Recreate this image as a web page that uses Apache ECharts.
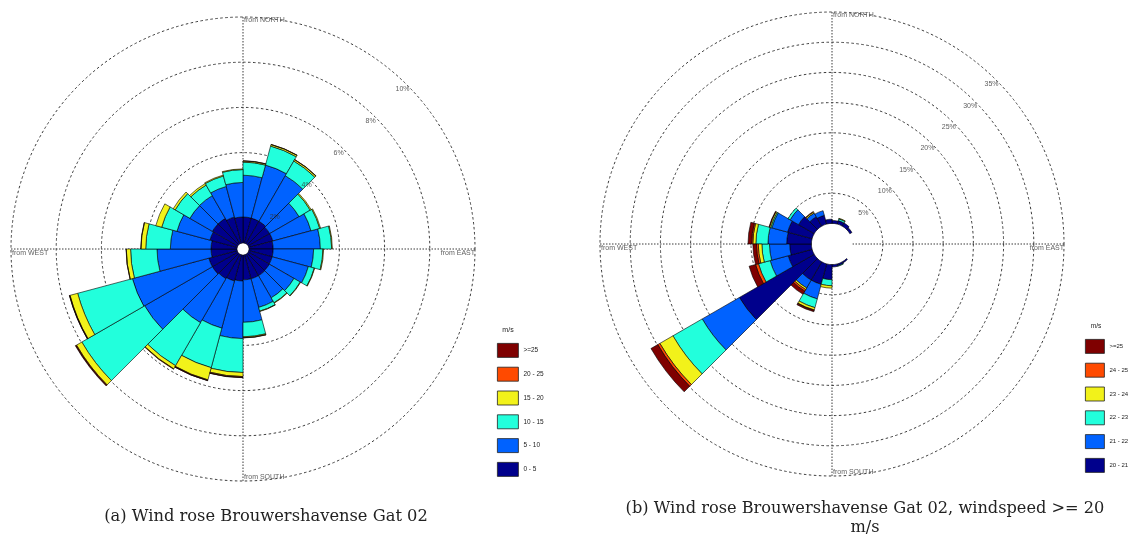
<!DOCTYPE html>
<html>
<head>
<meta charset="utf-8">
<script src="https://cdn.jsdelivr.net/npm/echarts@6/dist/echarts.min.js"></script>
<style>
  html, body { margin: 0; padding: 0; background: #fff; }
  #chart { width: 1132px; height: 541px; }
</style>
</head>
<body>
<div id="chart"></div>
<script>
// 24 direction sectors of 15 degrees, clockwise from north (sector start bearing)
const directions = ['0', '15', '30', '45', '60', '75', '90', '105', '120', '135', '150', '165',
                    '180', '195', '210', '225', '240', '255', '270', '285', '300', '315', '330', '345'];

// speed classes (m/s)
const speedBinsA = ['0 - 5', '5 - 10', '10 - 15', '15 - 20', '20 - 25', '>=25'];
const speedBinsB = ['20 - 21', '21 - 22', '22 - 23', '23 - 24', '24 - 25', '>=25'];
const binColors = ['#00008C', '#0062FF', '#22FFDC', '#F2F21A', '#FF4A00', '#7F0000'];

// radial tick labels (%)
const ringTicksA = [2, 4, 6, 8, 10];
const ringTicksB = [5, 10, 15, 20, 25, 30, 35];

// (a) frequency of occurrence (%) per sector and speed class, all wind speeds
const a0to5   = [1.15, 1.15, 1.15, 1.10, 1.10, 1.07, 1.07, 1.07, 1.08, 1.10, 1.10, 1.10,
                 1.15, 1.20, 1.25, 1.30, 1.30, 1.15, 1.15, 1.25, 1.30, 1.30, 1.20, 1.15];
const a5to10  = [1.85, 2.43, 2.33, 1.50, 1.75, 2.09, 1.79, 1.66, 1.26, 1.13, 1.31, 1.88,
                 2.55, 2.16, 2.25, 3.46, 3.50, 2.39, 1.80, 1.51, 1.15, 1.16, 1.40, 1.53];
const a10to15 = [0.58, 0.87, 0.75, 0.57, 0.40, 0.50, 0.41, 0.27, 0.32, 0.25, 0.17, 0.64,
                 1.50, 1.81, 2.20, 3.21, 2.51, 1.17, 1.09, 0.70, 0.75, 0.54, 0.48, 0.57];
const a15to20 = [0.05, 0.07, 0.07, 0.05, 0.04, 0.03, 0.03, 0.02, 0.02, 0.02, 0.02, 0.04,
                 0.18, 0.56, 0.16, 0.27, 0.35, 0.19, 0.21, 0.27, 0.10, 0.08, 0.04, 0.03];
const a20to25 = [0.01, 0.01, 0.01, 0, 0, 0, 0, 0, 0, 0, 0, 0.01,
                 0.04, 0.03, 0.02, 0.03, 0.02, 0.01, 0.01, 0, 0, 0, 0, 0];
const a25up   = [0, 0, 0, 0, 0, 0, 0, 0, 0, 0, 0, 0,
                 0.01, 0.01, 0, 0.03, 0.01, 0, 0, 0, 0, 0, 0, 0];

// (b) frequency of occurrence (%) per sector and speed class, wind speed >= 20 m/s
const b20to21 = [0.5, 0.6, 0.6, 0.4, 0, 0, 0, 0, 0, 0.2, 0.3, 0.4,
                 2.5, 3.5, 3.5, 14.3, 4.1, 3.6, 4.1, 4.2, 3.0, 1.8, 1.5, 0.7];
const b21to22 = [0, 0, 0, 0, 0, 0, 0, 0, 0, 0, 0, 0,
                 0, 2.5, 1.5, 7.1, 3.1, 3.35, 3.1, 2.7, 1.6, 0.7, 0.8, 0];
const b22to23 = [0, 0.3, 0, 0, 0, 0, 0, 0, 0, 0, 0.1, 0,
                 1.0, 1.5, 0, 5.6, 2.0, 1.25, 2.0, 0.2, 0.4, 0, 0, 0];
const b23to24 = [0, 0.1, 0, 0, 0, 0, 0, 0, 0, 0, 0, 0,
                 0.4, 0.4, 0.3, 2.5, 0, 0.6, 0.5, 0.2, 0, 0.2, 0, 0];
const b24to25 = [0, 0, 0, 0, 0, 0, 0, 0, 0, 0, 0, 0,
                 0, 0.1, 0.3, 0.4, 0.5, 0.3, 0.2, 0, 0, 0.1, 0, 0];
const b25up   = [0, 0, 0, 0, 0, 0, 0, 0, 0, 0, 0, 0,
                 0, 0.2, 0.6, 1.3, 1.1, 0.6, 0.6, 0.1, 0, 0, 0, 0];

const seriesA = [a0to5, a5to10, a10to15, a15to20, a20to25, a25up];
const seriesB = [b20to21, b21to22, b22to23, b23to24, b24to25, b25up];

const smallFont = 'Liberation Sans, Arial, sans-serif';
const gridColor = '#3a3a3a';

function barSeries(name, values, color, polarIndex) {
  return {
    type: 'bar',
    name: name,
    coordinateSystem: 'polar',
    polarIndex: polarIndex,
    stack: 'rose' + polarIndex,
    barCategoryGap: '0%',
    data: values.map(v => (v > 0 ? v : '-')),
    itemStyle: { color: color, borderColor: '#000', borderWidth: 0.6 },
    emphasis: { disabled: true },
    silent: true,
    z: 3
  };
}

function ringLabelSeries(polarIndex, ticks) {
  return {
    type: 'scatter',
    coordinateSystem: 'polar',
    polarIndex: polarIndex,
    symbolSize: 1,
    itemStyle: { color: 'rgba(0,0,0,0)' },
    data: ticks.map(v => [v, 45]),
    label: {
      show: true,
      position: 'inside',
      formatter: p => p.value[0] + '%',
      offset: [-4.5, 4.5],
      fontSize: 7,
      fontFamily: smallFont,
      color: '#333'
    },
    silent: true,
    z: 5
  };
}

function compassSeries(polarIndex, rMax) {
  const base = { show: true, position: 'inside', fontSize: 7, fontFamily: smallFont, color: '#333' };
  return {
    type: 'scatter',
    coordinateSystem: 'polar',
    polarIndex: polarIndex,
    symbolSize: 1,
    itemStyle: { color: 'rgba(0,0,0,0)' },
    data: [
      { value: [rMax, 0],   label: Object.assign({}, base, { formatter: 'from NORTH', align: 'left',  verticalAlign: 'top',    offset: [1, 0] }) },
      { value: [rMax, 90],  label: Object.assign({}, base, { formatter: 'from EAST',  align: 'right', verticalAlign: 'top',    offset: [0, 1] }) },
      { value: [rMax, 180], label: Object.assign({}, base, { formatter: 'from SOUTH', align: 'left',  verticalAlign: 'bottom', offset: [1, 0] }) },
      { value: [rMax, 270], label: Object.assign({}, base, { formatter: 'from WEST',  align: 'left',  verticalAlign: 'top',    offset: [1, 1] }) }
    ],
    silent: true,
    z: 5
  };
}

function ringColors(count) {
  const c = ['rgba(0,0,0,0)'];
  for (let i = 1; i < count; i++) c.push(gridColor);
  return c;
}

const hidden = { axisLine: { show: false }, axisTick: { show: false }, axisLabel: { show: false } };

const option = {
  backgroundColor: '#fff',
  animation: false,
  polar: [
    { center: [243, 249], radius: [6, 232] },
    { center: [243, 249], radius: [6, 232] },
    { center: [832, 244], radius: [20.6, 232] },
    { center: [832, 244], radius: [20.6, 232] }
  ],
  angleAxis: [
    Object.assign({ polarIndex: 0, type: 'category', data: directions, startAngle: 90, clockwise: true,
                    boundaryGap: true, splitLine: { show: false } }, hidden),
    Object.assign({ polarIndex: 1, type: 'value', min: 0, max: 360, interval: 90, startAngle: 90, clockwise: true,
                    splitLine: { show: true, lineStyle: { color: gridColor, width: 1, type: [1.5, 1.5] } } }, hidden),
    Object.assign({ polarIndex: 2, type: 'category', data: directions, startAngle: 90, clockwise: true,
                    boundaryGap: true, splitLine: { show: false } }, hidden),
    Object.assign({ polarIndex: 3, type: 'value', min: 0, max: 360, interval: 90, startAngle: 90, clockwise: true,
                    splitLine: { show: true, lineStyle: { color: gridColor, width: 1, type: [1.5, 1.5] } } }, hidden)
  ],
  radiusAxis: [
    Object.assign({ polarIndex: 0, type: 'value', min: 0, max: 10, splitLine: { show: false } }, hidden),
    Object.assign({ polarIndex: 1, type: 'value', min: 0, max: 10, interval: 2,
                    splitLine: { show: true, lineStyle: { color: ringColors(6), width: 1, type: [2.5, 2.5] } } }, hidden),
    Object.assign({ polarIndex: 2, type: 'value', min: 0, max: 35, splitLine: { show: false } }, hidden),
    Object.assign({ polarIndex: 3, type: 'value', min: 0, max: 35, interval: 5,
                    splitLine: { show: true, lineStyle: { color: ringColors(8), width: 1, type: [2.5, 2.5] } } }, hidden)
  ],
  legend: [
    {
      data: speedBinsA.slice().reverse(),
      orient: 'vertical', left: 492, top: 338,
      itemWidth: 21, itemHeight: 14, itemGap: 9,
      icon: 'rect', selectedMode: false,
      itemStyle: { borderColor: '#222', borderWidth: 0.8 },
      textStyle: { fontSize: 6.5, fontFamily: smallFont, color: '#222' }
    },
    {
      data: speedBinsB.slice().reverse(),
      orient: 'vertical', left: 1080, top: 334,
      itemWidth: 19, itemHeight: 14, itemGap: 9,
      icon: 'rect', selectedMode: false,
      itemStyle: { borderColor: '#222', borderWidth: 0.8 },
      textStyle: { fontSize: 6, fontFamily: smallFont, color: '#222' }
    }
  ],
  graphic: [
    { type: 'text', x: 508, y: 330, style: { text: 'm/s', fontSize: 7, fontFamily: smallFont, fill: '#222', align: 'center', verticalAlign: 'middle' } },
    { type: 'text', x: 1096, y: 326, style: { text: 'm/s', fontSize: 6.5, fontFamily: smallFont, fill: '#222', align: 'center', verticalAlign: 'middle' } },
    { type: 'text', x: 266, y: 517, style: { text: '(a) Wind rose Brouwershavense Gat 02', fontSize: 16.3, fontFamily: 'DejaVu Serif, serif', fill: '#222', align: 'center', verticalAlign: 'middle' } },
    { type: 'text', x: 865, y: 518, style: { text: '(b) Wind rose Brouwershavense Gat 02, windspeed >= 20\nm/s', lineHeight: 19, fontSize: 16.2, fontFamily: 'DejaVu Serif, serif', fill: '#222', align: 'center', verticalAlign: 'middle' } }
  ],
  series: [
    ...seriesA.map((vals, i) => barSeries(speedBinsA[i], vals, binColors[i], 0)),
    ...seriesB.map((vals, i) => barSeries(speedBinsB[i], vals, binColors[i], 2)),
    ringLabelSeries(1, ringTicksA),
    ringLabelSeries(3, ringTicksB),
    compassSeries(1, 10),
    compassSeries(3, 35)
  ]
};

const chart = echarts.init(document.getElementById('chart'), null, { renderer: 'canvas' });
chart.setOption(option);
</script>
</body>
</html>
